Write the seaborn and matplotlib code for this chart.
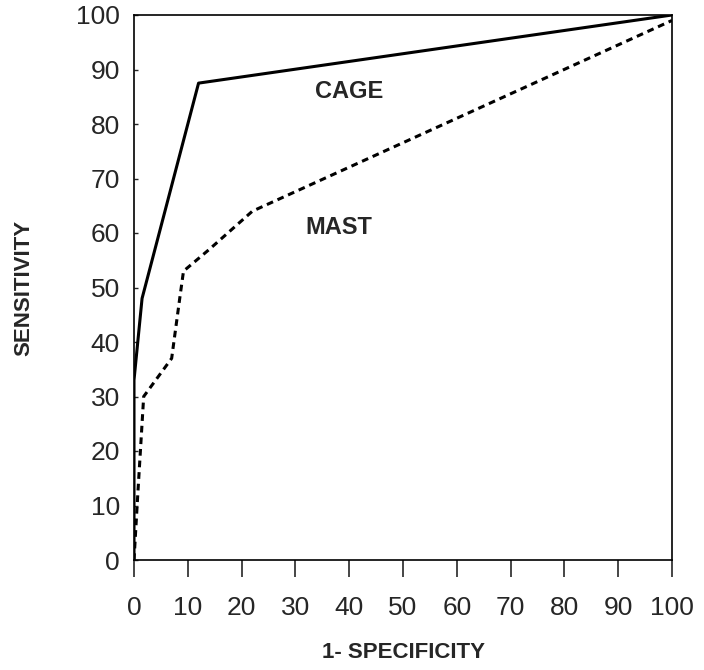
import numpy as np
import pandas as pd
import matplotlib
matplotlib.use("Agg")
import matplotlib.pyplot as plt
import seaborn as sns

# ROC curves
cage_fpr = [0, 0, 1.5, 12, 100]
cage_sens = [0, 33, 48, 87.5, 100]
mast_fpr = [0, 0.7, 1.8, 7, 8.5, 9.2, 14, 22, 100]
mast_sens = [0, 12, 30, 37, 48, 53, 57, 64, 99]

ticks = list(range(0, 101, 10))

df = pd.concat([
    pd.DataFrame({'fpr': cage_fpr, 'sens': cage_sens, 'test': 'CAGE'}),
    pd.DataFrame({'fpr': mast_fpr, 'sens': mast_sens, 'test': 'MAST'}),
])

sns.set_style('ticks')
plt.rcParams['font.family'] = ['Liberation Sans', 'DejaVu Sans']

fig = plt.figure(figsize=(7.04, 6.70), dpi=100)
ax = fig.add_axes([134 / 704, 1 - 560 / 670, (672 - 134) / 704, (560 - 15) / 670])

sns.lineplot(data=df, x='fpr', y='sens', style='test', color='black',
             dashes={'CAGE': '', 'MAST': (2.2, 1.6)}, linewidth=2.2,
             sort=False, estimator=None, legend=False, ax=ax)

ax.set_xlim(0, 100)
ax.set_ylim(0, 100)
ax.set_xticks(ticks)
ax.set_yticks(ticks)
ax.tick_params(axis='x', direction='out', length=12, width=1.2, labelsize=19, pad=14)
ax.tick_params(axis='y', direction='in', length=3, width=1, labelsize=19, pad=10)
for s in ax.spines.values():
    s.set_visible(True)
    s.set_linewidth(1.2)
    s.set_color('black')

ax.text(40, 86, 'CAGE', fontsize=17, fontweight='bold', ha='center', va='center')
ax.text(38, 61, 'MAST', fontsize=17, fontweight='bold', ha='center', va='center')

ax.set_xlabel('1- SPECIFICITY', fontsize=16, fontweight='bold', labelpad=16)
ax.set_ylabel('SENSITIVITY', fontsize=16, fontweight='bold', labelpad=30)

fig.savefig('out.png', dpi=100)
